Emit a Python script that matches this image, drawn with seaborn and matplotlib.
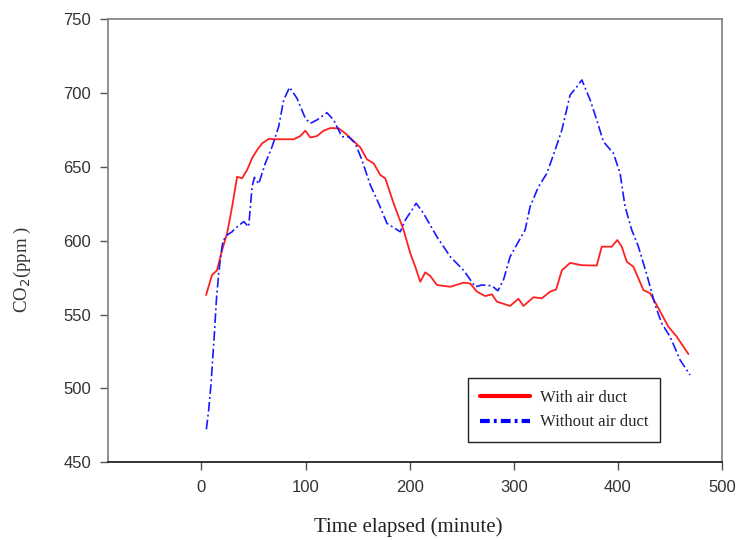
import matplotlib
matplotlib.use("Agg")
import matplotlib.pyplot as plt
from matplotlib.lines import Line2D
import seaborn as sns
import pandas as pd

# ---- data ----
with_x = [4.5, 10.2, 15, 19.9, 24.7, 29.5, 34.3, 39, 43.9, 48.7, 53.5, 58.3, 64.6, 72.6,
          88.6, 95, 99.8, 104.6, 111, 117.4, 123.8, 131.8, 138.2, 146.2, 152.6, 159,
          165.4, 171.8, 176.6, 184.6, 194.2, 200.6, 205.4, 210.2, 215, 219.8, 226.2,
          239, 251.8, 258.2, 264.6, 272.6, 279, 283.8, 296.5, 304.5, 309.3, 318.9,
          327, 334.9, 340.7, 346.2, 354.1, 365.4, 379.7, 384.5, 394.1, 399.5, 403.7,
          408.5, 414.9, 424.5, 430.9, 437.3, 448.5, 456.5, 467.7]
with_y = [563.2, 576.8, 580, 593.7, 605, 623, 643.4, 642.3, 648, 656, 661.5, 666, 669, 668.8,
          668.8, 671, 674.6, 670, 671, 674.6, 676.4, 676.2, 672.8, 667.6, 663.3, 655.2,
          652.5, 644.6, 642.3, 625.4, 607.3, 591.5, 582.4, 572.2, 578.6, 576.1, 570,
          568.8, 571.6, 571, 565.5, 562.5, 563.7, 558.7, 555.8, 560.7, 555.8, 561.7,
          561, 565.5, 567, 580, 585, 583.4, 583.2, 596, 596, 600.5, 596,
          585.8, 582.4, 566.6, 564.4, 556.4, 541.7, 535, 523.2]

without_x = [4.8, 7, 9.3, 11.2, 12.5, 14.4, 16.6, 18.9, 20.8, 24.7, 29.5, 32.6, 40.6, 45.4,
             48.7, 50.9, 55, 61.4, 67.9, 74.2, 79, 84.7, 91.8, 99.8, 104.6, 111, 120.6,
             127, 135, 141.4, 147.8, 154.2, 162.2, 170.2, 178.2, 191, 195.8, 206.3,
             213.3, 226.2, 239, 251.8, 263, 269.4, 279, 284.7, 290.1, 296.5, 304.5,
             310.9, 315.7, 323.7, 331.8, 339.7, 346.2, 354.1, 360.6, 365.4, 373.4,
             379.7, 386.1, 395.7, 402.1, 406.9, 413.3, 419.7, 427.8, 435.8, 442.1,
             450.1, 459.7, 469.3]
without_y = [472.2, 485.3, 503.3, 523.7, 537.2, 559.8, 577.9, 591.5, 600, 603.9, 606.1, 608.4, 613, 609.5,
             636.6, 643, 638.5, 652.5, 663.8, 677.3, 695.4, 704, 696.6, 683, 679.6, 681.9, 686.8,
             681.9, 670.5, 670.5, 666, 654.7, 637.8, 625.4, 611.8, 606.1, 614, 625.4,
             618.6, 602.7, 589.2, 580, 568.8, 570, 569.5, 566.1, 573.4, 589.2, 599.4,
             607.3, 623.1, 636.6, 645.7, 661.5, 675.1, 698.8, 704.4, 709, 695.4,
             681.9, 667.2, 659.3, 645.7, 623.1, 607.3, 596, 577, 556.4, 544,
             535, 519.2, 509]

series_names = ["With air duct", "Without air duct"]
x_ticks = [0, 100, 200, 300, 400, 500]
y_ticks = [450, 500, 550, 600, 650, 700, 750]

# ---- style ----
sns.set_theme(style="ticks")
plt.rcParams["font.family"] = ["Liberation Sans", "DejaVu Sans"]
plt.rcParams["lines.scale_dashes"] = False

fig = plt.figure(figsize=(7.36, 5.40), dpi=100)
ax = fig.add_axes([0.1463, 0.1444, 0.981 - 0.1463, 0.9639 - 0.1444])

red = "#ff2020"
blue = "#1a1aff"
dashdot = (0, (7, 2.2, 1.4, 2.2))

sns.lineplot(x=with_x, y=with_y, ax=ax, color=red, linewidth=1.3,
             estimator=None, sort=False)
sns.lineplot(x=without_x, y=without_y, ax=ax, color=blue, linewidth=1.2,
             linestyle=dashdot, estimator=None, sort=False)

ax.set_xlim(-90, 500)
ax.set_ylim(450, 750)
ax.set_xticks(x_ticks)
ax.set_yticks(y_ticks)
ax.tick_params(axis="both", direction="out", length=6, width=1.0, color="#555555",
               labelsize=12, labelcolor="#333333")
ax.tick_params(axis="y", pad=6)
ax.tick_params(axis="x", pad=7)

for name, sp in ax.spines.items():
    sp.set_visible(True)
    sp.set_linewidth(1.3)
    sp.set_color("#888888")
ax.spines["bottom"].set_color("#222222")

serif = ["Liberation Serif", "DejaVu Serif"]
ax.set_xlabel("Time elapsed (minute)", fontsize=15, family=serif, color="#222222")
ax.set_ylabel("CO$_2$(ppm )", fontsize=13.5, family=serif, color="#333333")
ax.xaxis.set_label_coords(0.489, -0.124)
ax.yaxis.set_label_coords(-0.1216, 0.434)

handles = [Line2D([0], [0], color="#ff0000", lw=3),
           Line2D([0], [0], color="#0000ff", lw=3, linestyle=(0, (7, 3, 2, 3)))]
leg = ax.legend(handles, series_names, loc="lower left",
                bbox_to_anchor=(0.5865, 0.0452), borderaxespad=0,
                prop={"family": serif, "size": 12}, handlelength=3.0,
                handletextpad=0.6, labelspacing=0.5, fancybox=False,
                framealpha=1, edgecolor="#222222", borderpad=0.7)
leg.get_frame().set_linewidth(1.0)

fig.savefig("out.png", dpi=100)
